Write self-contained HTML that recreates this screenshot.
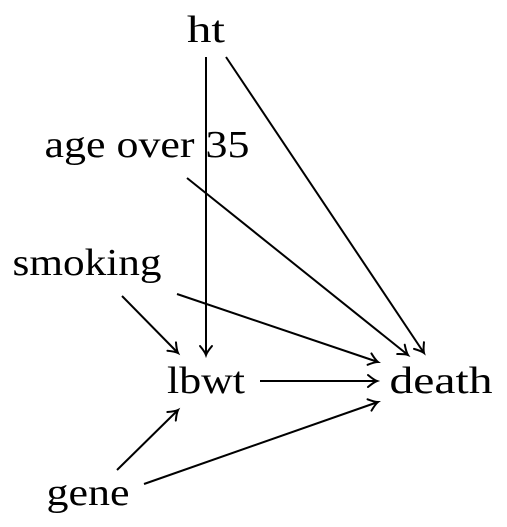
<!DOCTYPE html>
<html><head><meta charset="utf-8"><style>
html,body{margin:0;padding:0;background:#fff;}
svg{display:block;}
text{font-family:"Liberation Serif",serif;font-size:38px;fill:#000;}
</style></head><body>
<svg id="dag" width="507" height="527" viewBox="0 0 507 527" xmlns="http://www.w3.org/2000/svg"></svg>
<script>
const nodeNames = ["ht","age over 35","smoking","lbwt","death","gene"];
const nodeX = [206,147,87,206,441,88];
const nodeY = [42,157,275,393,393,505];
const nodeW = [38,205,149,78,103,83];
const edgeFrom = [[206,57],[226,57],[187,178],[122,296],[177,294],[260,381],[117,470],[144,484]];
const edgeTo = [[206,355],[424,353],[408,355],[178,353],[378,362],[377,381],[178,410],[378,402]];
const edgeNames = ["ht-to-lbwt","ht-to-death","age-to-death","smoking-to-lbwt","smoking-to-death","lbwt-to-death","gene-to-lbwt","gene-to-death"];
const NS="http://www.w3.org/2000/svg";
const svg=document.getElementById('dag');
for(let i=0;i<nodeNames.length;i++){
  const t=document.createElementNS(NS,'text');
  t.setAttribute('x',nodeX[i]);t.setAttribute('y',nodeY[i]);
  t.setAttribute('text-anchor','middle');
  t.setAttribute('textLength',nodeW[i]);t.setAttribute('lengthAdjust','spacingAndGlyphs');
  t.textContent=nodeNames[i];
  
  
  svg.appendChild(t);
}
for(let i=0;i<edgeFrom.length;i++){
  const [x1,y1]=edgeFrom[i],[x2,y2]=edgeTo[i];
  const g=document.createElementNS(NS,'g');
  
  
  const l=document.createElementNS(NS,'line');
  l.setAttribute('x1',x1);l.setAttribute('y1',y1);l.setAttribute('x2',x2);l.setAttribute('y2',y2);
  l.setAttribute('stroke','#000');l.setAttribute('stroke-width','2');
  g.appendChild(l);
  const a=Math.atan2(y2-y1,x2-x1);
  const ux=Math.cos(a),uy=Math.sin(a),px=-uy,py=ux;
  const L=9,W=6;
  const bx=x2-ux*L,by=y2-uy*L;
  const p=document.createElementNS(NS,'path');
  p.setAttribute('d',`M${bx+px*W},${by+py*W} Q${x2-ux*3+px*1},${y2-uy*3+py*1} ${x2},${y2} Q${x2-ux*3-px*1},${y2-uy*3-py*1} ${bx-px*W},${by-py*W}`);
  p.setAttribute('fill','none');p.setAttribute('stroke','#000');p.setAttribute('stroke-width','2');
  p.setAttribute('stroke-linecap','round');
  g.appendChild(p);
  svg.appendChild(g);
}
</script>
</body></html>
